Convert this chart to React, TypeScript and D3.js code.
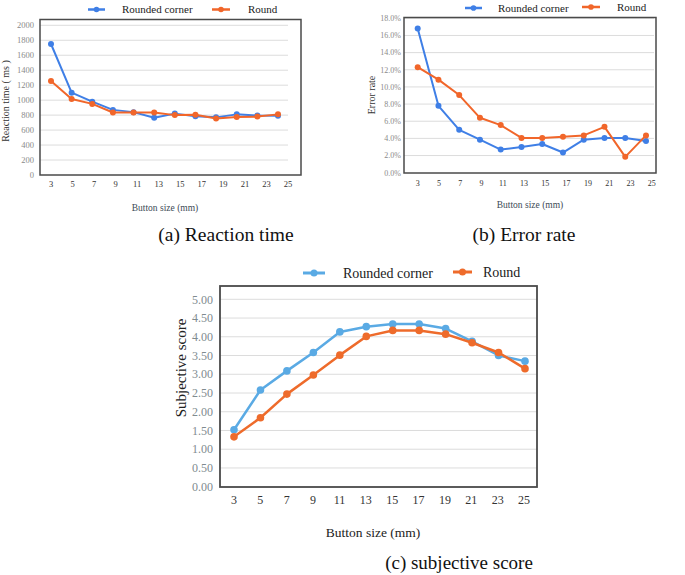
import React from "react";
import * as d3 from "d3";

const sizes = [3, 5, 7, 9, 11, 13, 15, 17, 19, 21, 23, 25];
const tickSizes = [3, 5, 7, 9, 11, 13, 15, 17, 19, 21, 23, 25];

const reactionRounded = [1750, 1100, 980, 870, 840, 765, 820, 785, 770, 810, 795, 790];
const reactionRound = [1255, 1015, 950, 835, 835, 835, 800, 805, 755, 775, 780, 810];
const reactionTicks = [0, 200, 400, 600, 800, 1000, 1200, 1400, 1600, 1800, 2000];

const errorRounded = [16.8, 7.8, 5.0, 3.85, 2.7, 3.0, 3.35, 2.35, 3.85, 4.05, 4.05, 3.7];
const errorRound = [12.3, 10.85, 9.05, 6.4, 5.55, 4.05, 4.05, 4.2, 4.35, 5.35, 1.85, 4.35];
const errorTicks = [0, 2, 4, 6, 8, 10, 12, 14, 16, 18];

const scoreRounded = [1.52, 2.58, 3.09, 3.58, 4.13, 4.27, 4.34, 4.34, 4.22, 3.88, 3.5, 3.35];
const scoreRound = [1.33, 1.84, 2.47, 2.98, 3.51, 4.01, 4.17, 4.17, 4.07, 3.84, 3.58, 3.15];
const scoreTicks = [0, 0.5, 1, 1.5, 2, 2.5, 3, 3.5, 4, 4.5, 5];

const seriesNames = ["Rounded corner", "Round"];

const SERIF = "'Liberation Serif', 'Times New Roman', 'DejaVu Serif', serif";

type PanelProps = {
  frame: { x0: number; x1: number; y0: number; y1: number };
  xLabelRange: [number, number];
  xPointRange: [number, number];
  yDomain: [number, number];
  yRange: [number, number];
  yTicks: number[];
  yFmt: (v: number) => string;
  series: number[][];
  colors: string[];
  tickFont: number;
  tickColor: string;
  yLabelX: number;
  xLabelY: number;
  gridX1: number;
  lineW: number;
  r: number;
  frameW: number;
};

function Panel(p: PanelProps) {
  const xl = d3.scaleLinear().domain([3, 25]).range(p.xLabelRange);
  const xp = d3.scalePoint<number>().domain(sizes).range(p.xPointRange);
  const y = d3.scaleLinear().domain(p.yDomain).range(p.yRange);
  const line = d3
    .line<number>()
    .x((_, i) => xp(sizes[i]) as number)
    .y((d) => y(d));
  const { x0, x1, y0, y1 } = p.frame;
  return (
    <g>
      {p.yTicks.map((t) => (
        <g key={t}>
          {t !== p.yDomain[0] && (
            <line x1={x0} x2={p.gridX1} y1={y(t)} y2={y(t)} stroke="#dcdcdc" strokeWidth={1} />
          )}
          <text
            x={p.yLabelX}
            y={y(t)}
            dy="0.35em"
            textAnchor="end"
            fontFamily={SERIF}
            fontSize={p.tickFont}
            fill={p.tickColor}
          >
            {p.yFmt(t)}
          </text>
        </g>
      ))}
      <rect x={x0} y={y0} width={x1 - x0} height={y1 - y0} fill="none" stroke="#4a4a4a" strokeWidth={p.frameW} />
      {tickSizes.map((s) => (
        <text
          key={s}
          x={xl(s)}
          y={p.xLabelY}
          textAnchor="middle"
          fontFamily={SERIF}
          fontSize={p.tickFont}
          fill="#333"
        >
          {s}
        </text>
      ))}
      {p.series.map((vals, si) => (
        <g key={si}>
          <path d={line(vals) || ""} fill="none" stroke={p.colors[si]} strokeWidth={p.lineW} strokeLinejoin="round" />
          {vals.map((v, i) => (
            <circle key={i} cx={xp(sizes[i])} cy={y(v)} r={p.r} fill={p.colors[si]} />
          ))}
        </g>
      ))}
    </g>
  );
}

function Legend({ items, colors, fontSize, lineW, r }: any) {
  return (
    <g>
      {items.map((it: any, i: number) => (
        <g key={i}>
          <line x1={it.lx0} x2={it.lx1} y1={it.y} y2={it.y} stroke={colors[i]} strokeWidth={lineW} />
          <circle cx={(it.lx0 + it.lx1) / 2} cy={it.y} r={r} fill={colors[i]} />
          <text x={it.tx} y={it.y} dy="0.35em" fontFamily={SERIF} fontSize={fontSize} fill="#222">
            {seriesNames[i]}
          </text>
        </g>
      ))}
    </g>
  );
}

export default function App() {
  const colAB = ["#3f7fe6", "#f1662a"];
  const colC = ["#5aaae4", "#ee6b2b"];
  return (
    <svg
      width={685}
      height={575}
      style={{ position: "absolute", left: 0, top: 0, background: "#fff" }}
    >
      <rect width={685} height={575} fill="#fff" />
      {/* (a) */}
      <Legend
        items={[
          { lx0: 88, lx1: 105, tx: 122, y: 9.5 },
          { lx0: 212, lx1: 230, tx: 248, y: 9.5 },
        ]}
        colors={colAB}
        fontSize={11}
        lineW={2.5}
        r={2.8}
      />
      <Panel
        frame={{ x0: 40, x1: 301, y0: 19.5, y1: 175 }}
        xLabelRange={[51, 288]}
        xPointRange={[51, 278]}
        yDomain={[0, 2000]}
        yRange={[175, 25.3]}
        yTicks={reactionTicks}
        yFmt={(v) => String(v)}
        series={[reactionRounded, reactionRound]}
        colors={colAB}
        tickFont={8.5}
        tickColor="#8a8a8a"
        yLabelX={34}
        xLabelY={187}
        gridX1={288}
        lineW={2}
        r={3}
        frameW={1.5}
      />
      <text
        transform="translate(9,101) rotate(-90)"
        textAnchor="middle"
        fontFamily={SERIF}
        fontSize={10}
        fill="#333"
      >
        Reaction time ( ms )
      </text>
      <text x={165} y={211} textAnchor="middle" fontFamily={SERIF} fontSize={9.5} fill="#3d4a55">
        Button size (mm)
      </text>
      <text x={226} y={241} textAnchor="middle" fontFamily={SERIF} fontSize={19.5} fill="#111">
        (a) Reaction time
      </text>

      {/* (b) */}
      <Legend
        items={[
          { lx0: 465, lx1: 482, tx: 498, y: 8 },
          { lx0: 582, lx1: 600, tx: 617, y: 7 },
        ]}
        colors={colAB}
        fontSize={11}
        lineW={2.5}
        r={2.8}
      />
      <Panel
        frame={{ x0: 404, x1: 656, y0: 17.5, y1: 173 }}
        xLabelRange={[417.7, 651.7]}
        xPointRange={[417.7, 646]}
        yDomain={[0, 18]}
        yRange={[172.7, 18.3]}
        yTicks={errorTicks}
        yFmt={(v) => v.toFixed(1) + "%"}
        series={[errorRounded, errorRound]}
        colors={colAB}
        tickFont={8}
        tickColor="#8a8a8a"
        yLabelX={401}
        xLabelY={186}
        gridX1={654}
        lineW={2}
        r={3}
        frameW={1.5}
      />
      <text
        transform="translate(375,95) rotate(-90)"
        textAnchor="middle"
        fontFamily={SERIF}
        fontSize={10}
        fill="#333"
      >
        Error rate
      </text>
      <text x={530} y={208} textAnchor="middle" fontFamily={SERIF} fontSize={9.5} fill="#3d4a55">
        Button size (mm)
      </text>
      <text x={524} y={241} textAnchor="middle" fontFamily={SERIF} fontSize={19.5} fill="#111">
        (b) Error rate
      </text>

      {/* (c) */}
      <Legend
        items={[
          { lx0: 303, lx1: 325, tx: 343, y: 273 },
          { lx0: 453, lx1: 472, tx: 483, y: 272 },
        ]}
        colors={colC}
        fontSize={14}
        lineW={3}
        r={3.5}
      />
      <Panel
        frame={{ x0: 220, x1: 537, y0: 286, y1: 487 }}
        xLabelRange={[234, 524]}
        xPointRange={[234, 525]}
        yDomain={[0, 5]}
        yRange={[486.7, 299.3]}
        yTicks={scoreTicks}
        yFmt={(v) => v.toFixed(2)}
        series={[scoreRounded, scoreRound]}
        colors={colC}
        tickFont={12}
        tickColor="#7f8b8f"
        yLabelX={213}
        xLabelY={504}
        gridX1={537}
        lineW={2.5}
        r={3.8}
        frameW={1.8}
      />
      <text
        transform="translate(186,368) rotate(-90)"
        textAnchor="middle"
        fontFamily={SERIF}
        fontSize={15}
        fill="#222"
      >
        Subjective score
      </text>
      <text x={373} y={537} textAnchor="middle" fontFamily={SERIF} fontSize={13.5} fill="#222">
        Button size (mm)
      </text>
      <text x={459} y={569} textAnchor="middle" fontFamily={SERIF} fontSize={19} fill="#111">
        (c) subjective score
      </text>
    </svg>
  );
}
